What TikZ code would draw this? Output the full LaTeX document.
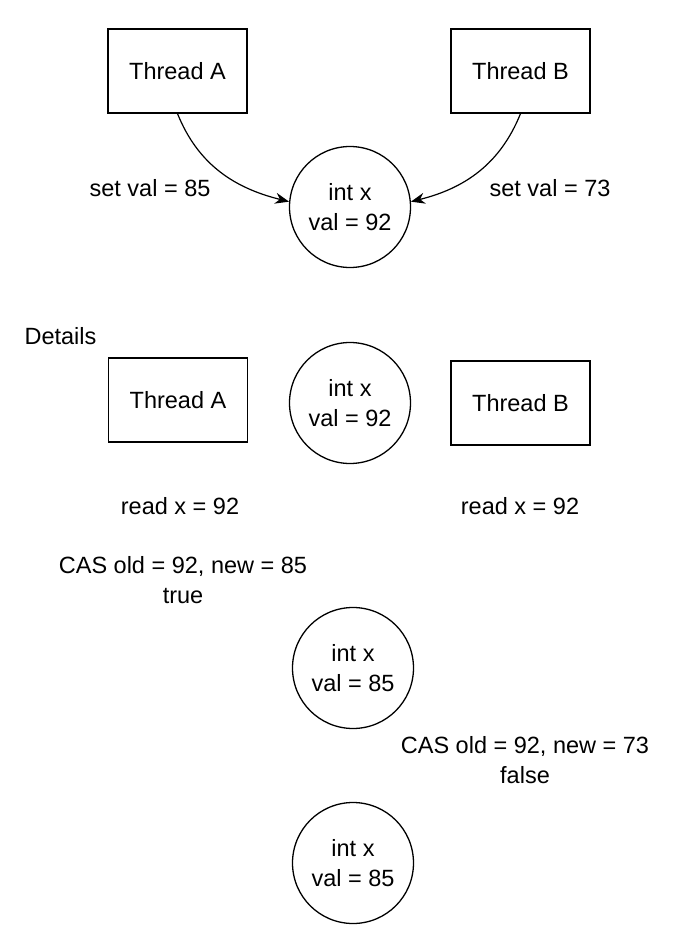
\documentclass[tikz,border=0pt]{standalone}
\usepackage{fontspec}
\setmainfont{Liberation Sans}
\usetikzlibrary{arrows.meta}

\begin{document}
\begin{tikzpicture}[x=1pt,y=-1pt,
    every node/.style={font=\fontsize{23.5}{30}\selectfont},
    thread/.style={draw,line width=1.3pt,minimum width=139pt,minimum height=84pt,inner sep=0pt},
    var/.style={draw,circle,line width=1.3pt,minimum size=121pt,inner sep=0pt,align=center},
    note/.style={align=center}]
    \useasboundingbox (0,0) rectangle (691,936);
    % overview
    \node[thread] (ta) at (177.5,71) {Thread A};
    \node[thread] (tb) at (520.5,71) {Thread B};
    \node[var] (x0) at (350,207) {int x\\val = 92};
    \draw[line width=1.2pt,-{Stealth[length=14pt,width=11pt]}] (ta.south) to[out=-68,in=166] (x0.175);
    \draw[line width=1.2pt,-{Stealth[length=14pt,width=11pt]}] (tb.south) to[out=-112,in=14] (x0.5);
    \node[note] (sa) at (150,188) {set val = 85};
    \node[note] (sb) at (550,188) {set val = 73};
    % details
    \node[anchor=west] (det) at (21,336) {Details};
    \node[thread] (da) at (178,400) {Thread A};
    \node[var] (x1) at (350,403) {int x\\val = 92};
    \node[thread] (db) at (520.5,403) {Thread B};
    \node[note] (ra) at (180,506) {read x = 92};
    \node[note] (rb) at (520,506) {read x = 92};
    \node[note] (ca) at (183,580) {CAS old = 92, new = 85\\true};
    \node[var] (x2) at (353,668) {int x\\val = 85};
    \node[note] (cb) at (525,760) {CAS old = 92, new = 73\\false};
    \node[var] (x3) at (353,863) {int x\\val = 85};
\end{tikzpicture}
\end{document}
